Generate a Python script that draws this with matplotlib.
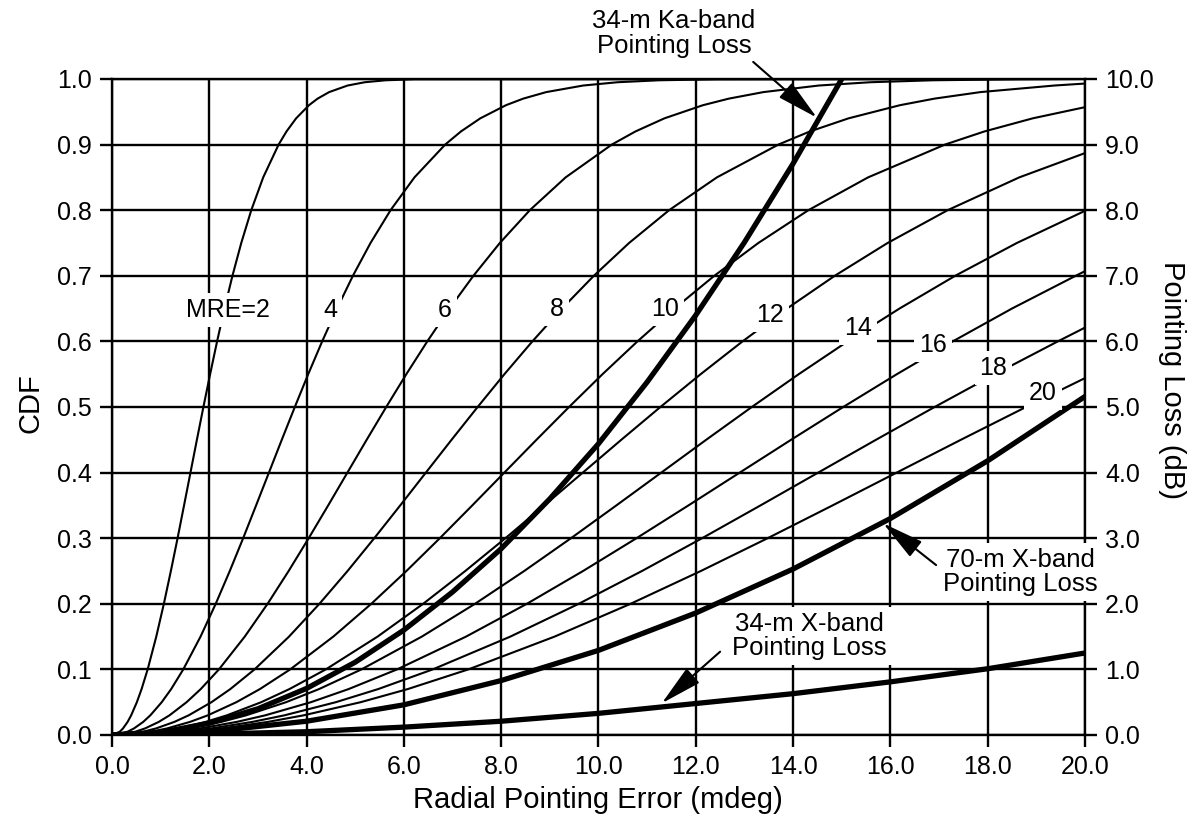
import matplotlib
matplotlib.use("Agg")
import matplotlib.pyplot as plt

plt.rcParams['font.family'] = ['Liberation Sans', 'DejaVu Sans']

# CDF levels; for each MRE curve the radial error (mdeg) where it crosses them,
# read off the chart, plus the value where the curve leaves the plot at 20 mdeg
cdf_levels = [0, 0.005, 0.01, 0.02, 0.03, 0.05, 0.07, 0.1, 0.15, 0.2, 0.25, 0.3, 0.35, 0.4,
              0.45, 0.5, 0.55, 0.6, 0.65, 0.7, 0.75, 0.8, 0.85, 0.9, 0.92, 0.94, 0.96, 0.97,
              0.98, 0.99, 0.995, 0.998, 0.9995]

mre_values = [2, 4, 6, 8, 10, 12, 14, 16, 18, 20]

x_mre2 = [0, 0.160, 0.226, 0.321, 0.394, 0.511, 0.608, 0.733, 0.910, 1.066, 1.210, 1.348, 1.481,
          1.613, 1.745, 1.879, 2.017, 2.160, 2.312, 2.476, 2.657, 2.863, 3.108, 3.425, 3.587,
          3.785, 4.049, 4.226, 4.464, 4.843, 5.195, 5.626, 6.222]
x_mre4 = [0, 0.320, 0.452, 0.642, 0.788, 1.022, 1.216, 1.465, 1.820, 2.132, 2.421, 2.696, 2.962,
          3.226, 3.490, 3.758, 4.033, 4.320, 4.625, 4.952, 5.314, 5.726, 6.217, 6.849, 7.173,
          7.571, 8.098, 8.452, 8.927, 9.686, 10.389, 11.252, 12.444]
x_mre6 = [0, 0.479, 0.679, 0.962, 1.182, 1.533, 1.824, 2.198, 2.729, 3.198, 3.631, 4.043, 4.444,
          4.839, 5.235, 5.637, 6.050, 6.481, 6.937, 7.429, 7.972, 8.589, 9.325, 10.274, 10.760,
          11.356, 12.147, 12.678, 13.391, 14.529, 15.584, 16.878, 18.665]
x_mre8 = [0, 0.639, 0.905, 1.283, 1.576, 2.044, 2.432, 2.930, 3.639, 4.264, 4.842, 5.391, 5.925,
          6.452, 6.980, 7.516, 8.066, 8.641, 9.249, 9.905, 10.629, 11.452, 12.434, 13.698, 14.346,
          15.141, 16.196, 16.904, 17.854, 19.372]
x_mre10 = [0, 0.799, 1.131, 1.604, 1.970, 2.556, 3.040, 3.663, 4.549, 5.330, 6.052, 6.739, 7.406,
           8.065, 8.725, 9.395, 10.083, 10.801, 11.562, 12.381, 13.286, 14.315, 15.542, 17.123,
           17.933, 18.927]
x_mre12 = [0, 0.959, 1.357, 1.925, 2.363, 3.067, 3.647, 4.395, 5.459, 6.396, 7.262, 8.087, 8.887,
           9.678, 10.469, 11.273, 12.100, 12.961, 13.874, 14.857, 15.943, 17.178, 18.650]
x_mre14 = [0, 1.119, 1.583, 2.246, 2.757, 3.578, 4.255, 5.128, 6.369, 7.462, 8.473, 9.435, 10.368,
           11.291, 12.214, 13.152, 14.116, 15.121, 16.186, 17.333, 18.600]
x_mre16 = [0, 1.278, 1.810, 2.566, 3.151, 4.089, 4.863, 5.860, 7.278, 8.528, 9.683, 10.782, 11.850,
           12.904, 13.959, 15.031, 16.133, 17.282, 18.498, 19.810]
x_mre18 = [0, 1.438, 2.036, 2.887, 3.545, 4.600, 5.471, 6.593, 8.188, 9.594, 10.894, 12.130, 13.331,
           14.517, 15.704, 16.910, 18.149, 19.442]
x_mre20 = [0, 1.598, 2.262, 3.208, 3.939, 5.111, 6.079, 7.325, 9.098, 10.660, 12.104, 13.478, 14.812,
           16.130, 17.449, 18.789]

# CDF of each curve at 20 mdeg (right edge)
cdf_at_20 = [1.0, 1.0, 1.0, 0.993, 0.957, 0.887, 0.799, 0.707, 0.621, 0.544]

x_curves = [x_mre2, x_mre4, x_mre6, x_mre8, x_mre10,
            x_mre12, x_mre14, x_mre16, x_mre18, x_mre20]

# where each MRE label sits on its curve
label_x = [2.38, 4.48, 6.84, 9.14, 11.37, 13.52, 15.34, 16.88, 18.12, 19.14]
label_y = [0.648, 0.648, 0.648, 0.649, 0.649, 0.640, 0.620, 0.594, 0.559, 0.522]

# pointing loss curves (dB)
x_ka34 = [0, 1, 2, 3, 4, 5, 6, 7, 8, 9, 10, 11, 12, 13, 14, 15]
loss_ka34 = [0, 0.04, 0.18, 0.40, 0.71, 1.11, 1.60, 2.18, 2.84, 3.60, 4.44, 5.38, 6.40, 7.51, 8.71, 10.0]
x_x70 = [0, 2, 4, 6, 8, 10, 12, 14, 16, 18, 20]
loss_x70 = [0, 0.05, 0.21, 0.46, 0.83, 1.29, 1.86, 2.53, 3.30, 4.18, 5.16]
x_x34 = [0, 2, 4, 6, 8, 10, 12, 14, 16, 18, 20]
loss_x34 = [0, 0.0125, 0.05, 0.12, 0.21, 0.33, 0.48, 0.63, 0.81, 1.01, 1.25]

xticks = [0, 2, 4, 6, 8, 10, 12, 14, 16, 18, 20]
yticks = [0, 0.1, 0.2, 0.3, 0.4, 0.5, 0.6, 0.7, 0.8, 0.9, 1.0]
yticks_db = [0, 1, 2, 3, 4, 5, 6, 7, 8, 9, 10]

lw_grid = 1.7
fig = plt.figure(figsize=(12.03, 8.4), dpi=100)
ax = fig.add_axes([0.0931, 0.125, 0.8088, 0.781])
ax2 = ax.twinx()
ax.set_zorder(2)
ax2.set_zorder(1)
ax.patch.set_visible(False)

for xs, end in zip(x_curves, cdf_at_20):
    ys = cdf_levels[:len(xs)] + [end]
    ax.plot(xs + [20], ys, color='black', lw=1.5, zorder=3)

ax2.plot(x_ka34, loss_ka34, color='black', lw=3.8)
ax2.plot(x_x70, loss_x70, color='black', lw=3.8)
ax2.plot(x_x34, loss_x34, color='black', lw=3.8)

ax.set_xlim(0, 20)
ax.set_ylim(0, 1)
ax2.set_ylim(0, 10)
ax.set_xticks(xticks)
ax.set_xticklabels(['%.1f' % v for v in xticks])
ax.set_yticks(yticks)
ax.set_yticklabels(['%.1f' % v for v in yticks])
ax2.set_yticks(yticks_db)
ax2.set_yticklabels(['%.1f' % v for v in yticks_db])

ax.grid(True, color='black', lw=lw_grid)
for s in ax.spines.values():
    s.set_linewidth(lw_grid)
for s in ax2.spines.values():
    s.set_visible(False)
ax.tick_params(direction='out', length=8.5, width=lw_grid, labelsize=18, pad=6,
               top=False, right=False)
ax2.tick_params(direction='out', length=8.5, width=lw_grid, labelsize=18, pad=6)

for m, lx, ly in zip(mre_values, label_x, label_y):
    txt = 'MRE=%d' % m if m == 2 else '%d' % m
    ax.text(lx, ly, txt, fontsize=18, ha='center', va='center', zorder=10,
            bbox=dict(boxstyle='square,pad=0.2', fc='white', ec='none'))

arrow = dict(arrowstyle='-|>,head_length=2.6,head_width=0.6', color='black',
             lw=1.5, mutation_scale=10, shrinkA=0, shrinkB=0)

# 34-m Ka-band
ax.text(11.55, 1.069, '34-m Ka-band\nPointing Loss', fontsize=18.5, ha='center', va='center',
        linespacing=1.05, clip_on=False)
ax.annotate('', xy=(14.49, 0.941), xytext=(13.18, 1.026), arrowprops=arrow,
            annotation_clip=False, zorder=9)

# 70-m X-band
ax.text(18.67, 0.249, '70-m X-band\nPointing Loss', fontsize=18.5, ha='center', va='center',
        linespacing=1.0, zorder=10,
        bbox=dict(boxstyle='square,pad=0.2', fc='white', ec='none'))
ax.annotate('', xy=(15.85, 0.3227), xytext=(16.94, 0.259), arrowprops=arrow, zorder=9)

# 34-m X-band
ax.text(14.33, 0.151, '34-m X-band\nPointing Loss', fontsize=18.5, ha='center', va='center',
        linespacing=1.0, zorder=10,
        bbox=dict(boxstyle='square,pad=0.2', fc='white', ec='none'))
ax.annotate('', xy=(11.30, 0.0483), xytext=(12.50, 0.127), arrowprops=arrow, zorder=9)

fig.text(0.497, 0.0476, 'Radial Pointing Error (mdeg)', fontsize=21, ha='center', va='center')
fig.text(0.025, 0.52, 'CDF', fontsize=21, ha='center', va='center', rotation=90)
fig.text(0.974, 0.548, 'Pointing Loss (dB)', fontsize=21, ha='center', va='center', rotation=270)

fig.savefig('out.png', dpi=100)
